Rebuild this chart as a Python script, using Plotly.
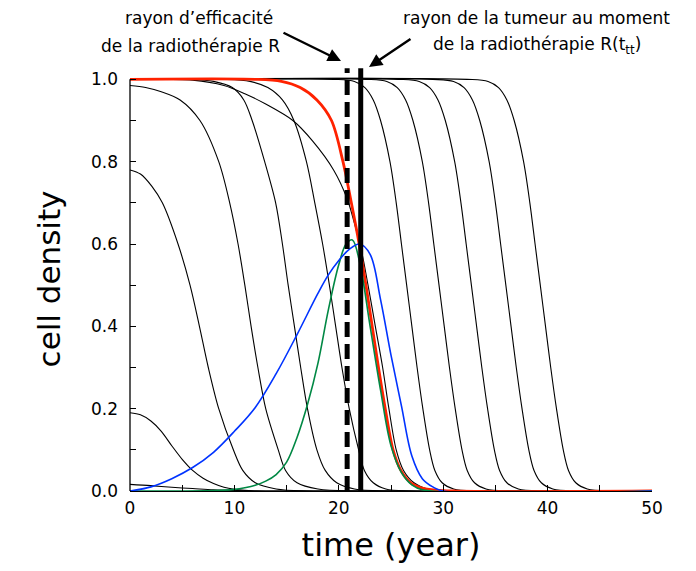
import plotly.graph_objects as go

# ---------------- data ----------------
curve_H_x = [0, 2, 4, 6, 8, 10, 12, 50]
curve_H_y = [0.016, 0.013, 0.009, 0.006, 0.003, 0.0012, 0, 0]

curve_G_x = [0, 1, 2, 3, 4, 5, 6, 7, 8, 9, 10, 11, 12, 13, 50]
curve_G_y = [0.19, 0.185, 0.17, 0.145, 0.11, 0.077, 0.05, 0.031, 0.018, 0.009, 0.004, 0.0015, 0.0005, 0, 0]

curve_A_x = [0, 1.0, 2.1, 3.1, 4.6, 5.75, 6.65, 7.5, 8.5, 9.9, 10.8, 12.0, 14, 17, 50]
curve_A_y = [0.78, 0.77, 0.74, 0.7, 0.6, 0.5, 0.4, 0.3, 0.2, 0.1, 0.05, 0.02, 0.005, 0, 0]

curve_B_x = [0, 1.5, 3.0, 4.8, 6.7, 8.5, 9.55, 10.35, 11.0, 11.6, 12.25, 13.0, 14.2, 14.9, 16.0, 18, 22, 50]
curve_B_y = [0.985, 0.98, 0.97, 0.95, 0.9, 0.8, 0.7, 0.6, 0.5, 0.4, 0.3, 0.2, 0.1, 0.05, 0.02, 0.005, 0, 0]

levels_front = [1, 1, 0.995, 0.98, 0.95, 0.9, 0.8, 0.7, 0.6, 0.5, 0.4, 0.3, 0.2, 0.1, 0.05, 0.02, 0.005, 0, 0]
curve_C_x = [0, 5.5, 8, 9.8, 10.9, 11.7, 12.9, 13.95, 14.6, 15.15, 15.75, 16.35, 17.0, 17.9, 18.7, 19.8, 21.5, 25, 50]
curve_E_x = [0, 9, 11.5, 13.2, 14.6, 15.7, 16.9, 17.7, 18.45, 19.1, 19.7, 20.3, 21.0, 21.9, 22.45, 23.3, 24.5, 27, 50]

curve_D_x = [0, 6, 9, 11, 13, 15.6, 17.5, 19.5, 20.8, 21.5, 22.2, 22.8, 23.5, 24.2, 24.8, 25.5, 26.2, 27.2, 28.5, 31, 50]
curve_D_y = [1, 0.998, 0.985, 0.965, 0.94, 0.9, 0.85, 0.78, 0.71, 0.65, 0.58, 0.5, 0.4, 0.3, 0.2, 0.1, 0.05, 0.02, 0.005, 0, 0]

levels_right = [1, 1, 0.995, 0.98, 0.95, 0.9, 0.8, 0.7, 0.6, 0.5, 0.4, 0.3, 0.2, 0.1, 0.05, 0.02, 0.005, 0, 0]
curve_R1_x = [0, 19.5, 21.5, 22.5, 23.3, 24.0, 24.9, 25.5, 26.0, 26.5, 27.0, 27.5, 28.05, 28.7, 29.2, 29.9, 31.0, 33.5, 50]
curve_R2_x = [0, 22.6, 24.6, 25.6, 26.4, 27.1, 28.0, 28.6, 29.1, 29.6, 30.1, 30.6, 31.15, 31.8, 32.3, 33.0, 34.1, 36.6, 50]
curve_R3_x = [0, 25.7, 27.7, 28.7, 29.5, 30.2, 31.1, 31.7, 32.2, 32.7, 33.2, 33.7, 34.25, 34.9, 35.4, 36.1, 37.2, 39.7, 50]
curve_R4_x = [0, 29.0, 31.0, 32.0, 32.8, 33.5, 34.4, 35.0, 35.5, 36.0, 36.5, 37.0, 37.55, 38.2, 38.7, 39.4, 40.5, 43.0, 50]
curve_R5_x = [0, 32.3, 34.3, 35.3, 36.1, 36.8, 37.7, 38.3, 38.8, 39.3, 39.8, 40.3, 40.85, 41.5, 42.0, 42.7, 43.8, 46.3, 50]

red_x = [0, 12, 14.5, 16.3, 17.9, 19.3, 20.4, 21.2, 21.95, 22.6, 23.2, 23.8, 24.45, 25.2, 25.95, 26.9, 28.3, 31, 50]
red_y = [1, 1, 0.995, 0.98, 0.95, 0.9, 0.8, 0.7, 0.6, 0.5, 0.4, 0.3, 0.2, 0.1, 0.05, 0.02, 0.005, 0, 0]

blue_x = [0, 2, 4, 6, 8, 10, 12, 14, 16, 18, 19, 20, 21, 22, 23, 24, 25, 26, 27, 28, 29, 30, 50]
blue_y = [0, 0.01, 0.03, 0.057, 0.094, 0.145, 0.203, 0.285, 0.38, 0.48, 0.525, 0.56, 0.587, 0.6, 0.575,
          0.465, 0.33, 0.207, 0.085, 0.03, 0.01, 0.0, 0]

green_x = [0, 8, 10, 11, 12, 13, 14, 15, 16, 17, 18, 19, 20, 20.7, 21.3, 22, 23, 24, 25, 26, 27, 28, 50]
green_y = [0, 0.001, 0.004, 0.008, 0.014, 0.024, 0.04, 0.07, 0.13, 0.21, 0.31, 0.44, 0.55, 0.6, 0.61,
           0.555, 0.4, 0.245, 0.11, 0.045, 0.015, 0.003, 0]

# vertical markers
R_efficacy = 20.8      # rayon d'efficacité de la radiothérapie R
R_tumour = 22.1        # rayon de la tumeur R(t_tt)
marker_span = [0, 1.027]

x_ticks = [0, 10, 20, 30, 40, 50]
y_ticks = [0.0, 0.2, 0.4, 0.6, 0.8, 1.0]

FONT = "DejaVu Sans"
Y_TOP = 1.03

fig = go.Figure()

black_curves = [
    (curve_H_x, curve_H_y), (curve_G_x, curve_G_y), (curve_A_x, curve_A_y),
    (curve_B_x, curve_B_y), (curve_C_x, levels_front), (curve_E_x, levels_front),
    (curve_D_x, curve_D_y),
    (curve_R1_x, levels_right), (curve_R2_x, levels_right), (curve_R3_x, levels_right),
    (curve_R4_x, levels_right), (curve_R5_x, levels_right),
]
for cx, cy in black_curves:
    fig.add_trace(go.Scatter(x=cx, y=cy, mode="lines",
                             line=dict(color="black", width=1.1, shape="spline", smoothing=0.9),
                             showlegend=False, hoverinfo="skip"))

fig.add_trace(go.Scatter(x=red_x, y=red_y, mode="lines",
                         line=dict(color="#FF2200", width=2.8, shape="spline", smoothing=0.9),
                         showlegend=False))
fig.add_trace(go.Scatter(x=green_x, y=green_y, mode="lines",
                         line=dict(color="#008844", width=1.6, shape="spline", smoothing=1.0),
                         showlegend=False))
fig.add_trace(go.Scatter(x=blue_x, y=blue_y, mode="lines",
                         line=dict(color="#0033FF", width=1.6, shape="spline", smoothing=1.0),
                         showlegend=False))

fig.add_trace(go.Scatter(x=[R_efficacy, R_efficacy], y=marker_span, mode="lines",
                         line=dict(color="black", width=5, dash="15px,7px"), showlegend=False))
fig.add_trace(go.Scatter(x=[R_tumour, R_tumour], y=marker_span, mode="lines",
                         line=dict(color="black", width=5), showlegend=False))

# y axis line only from 0 to 1
fig.add_shape(type="line", xref="paper", yref="paper", x0=0, x1=0, y0=0, y1=1.0 / Y_TOP,
              line=dict(color="black", width=1.3))

tickfont = dict(family=FONT, size=17, color="black")
fig.update_xaxes(range=[0, 50], showline=True, linecolor="black", linewidth=1.3,
                 ticks="inside", ticklen=6, tickcolor="black", tickwidth=1,
                 tickvals=x_ticks, ticktext=[str(v) for v in x_ticks],
                 minor=dict(dtick=5, ticks="inside", ticklen=6, tickcolor="black"),
                 showgrid=False, zeroline=False, tickfont=tickfont, ticklabelstandoff=1,
                 title=dict(text="time (year)", font=dict(family=FONT, size=32, color="black"), standoff=17))
fig.update_yaxes(range=[0, Y_TOP], showline=False,
                 ticks="inside", ticklen=6, tickcolor="black", tickwidth=1,
                 tickvals=y_ticks, ticktext=[f"{v:.1f}" for v in y_ticks],
                 minor=dict(tickvals=[0.1, 0.3, 0.5, 0.7, 0.9], ticks="inside", ticklen=6, tickcolor="black"),
                 showgrid=False, zeroline=False, tickfont=tickfont, ticklabelstandoff=11,
                 title=dict(text="cell density", font=dict(family=FONT, size=31, color="black"), standoff=21))

# page geometry (the page body adds an 8 px offset)
OFF = 8
W, H = 696 - OFF, 571 - OFF
L, R, T, B = 130 - OFF, 44, 67 - OFF, 80
PW, PH = W - L - R, H - T - B

ann_font = dict(family=FONT, size=17, color="black")
anns = [
    dict(text="rayon d’efficacité", x=199, y=18),
    dict(text="de la radiothérapie R", x=190, y=46),
    dict(text="rayon de la tumeur au moment", x=536, y=18),
    dict(text="de la radiothérapie R(t<sub>tt</sub>)", x=537, y=46),
]
for a in anns:
    fig.add_annotation(text=a["text"], xref="paper", yref="paper",
                       x=(a["x"] - OFF - L) / PW, y=1 + (OFF + T - a["y"]) / PH,
                       xanchor="center", yanchor="middle", showarrow=False, font=ann_font)

# arrows
for head, tail in [((341, 61), (282, 32)), ((369, 67), (412, 38))]:
    fig.add_annotation(text="", xref="paper", yref="paper",
                       x=(head[0] - OFF - L) / PW, y=1 + (OFF + T - head[1]) / PH,
                       ax=tail[0] - head[0], ay=tail[1] - head[1],
                       showarrow=True, arrowhead=2, arrowsize=1.1, arrowwidth=2.4, arrowcolor="black")

fig.update_layout(width=W, height=H, margin=dict(l=L, r=R, t=T, b=B),
                  plot_bgcolor="white", paper_bgcolor="white",
                  font=dict(family=FONT, color="black"), showlegend=False)

fig.write_html("out.html")
